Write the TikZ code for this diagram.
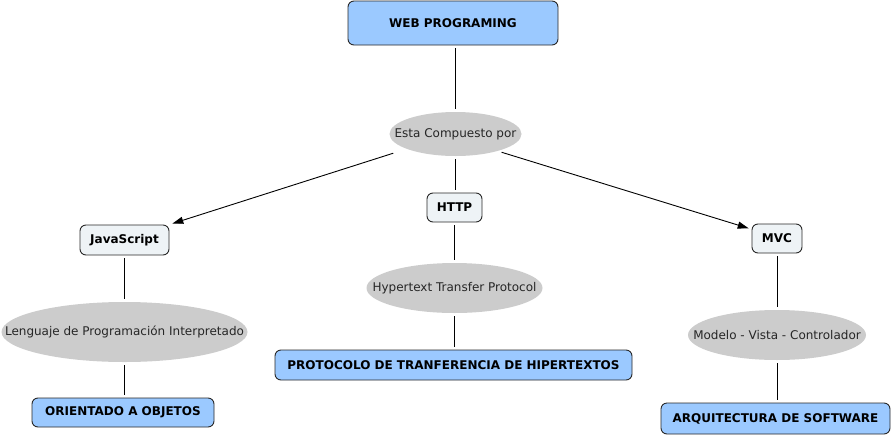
\documentclass[tikz,border=0pt]{standalone}
\usepackage{fontspec}
\setmainfont{DejaVu Sans}
\usetikzlibrary{arrows.meta,shapes.geometric}
\definecolor{boxblue}{RGB}{155,201,255}
\definecolor{boxlight}{RGB}{238,243,246}
\definecolor{ovalgray}{RGB}{204,204,204}
\definecolor{edgedark}{RGB}{40,40,40}
\newcommand{\ovtext}[1]{\makebox[0pt]{#1}}
\tikzset{
  mainbox/.style={draw=edgedark, line width=0.9pt, fill=boxblue, rounded corners=6pt,
    inner sep=0pt, font=\fontsize{12}{14}\selectfont\bfseries},
  subbox/.style={draw=edgedark, line width=0.9pt, fill=boxlight, rounded corners=6pt,
    inner sep=0pt, font=\fontsize{12}{14}\selectfont\bfseries},
  oval/.style={ellipse, fill=ovalgray, inner sep=0pt, text=black!85,
    font=\fontsize{12}{14}\selectfont},
  link/.style={draw=black, line width=0.9pt, shorten <=3pt, shorten >=3pt},
  arrowlink/.style={link, -{Triangle[length=11pt,width=7pt]}}
}
\begin{document}
\begin{tikzpicture}[x=1pt,y=-1pt]
\useasboundingbox (0,0) rectangle (892,437);
% boxes
\node[mainbox, minimum width=210pt, minimum height=44pt] (web) at (453,23) {WEB PROGRAMING};
\node[subbox, minimum width=55pt, minimum height=29pt] (http) at (454.5,207.5) {HTTP};
\node[subbox, minimum width=89pt, minimum height=30pt] (js) at (124.5,240) {JavaScript};
\node[subbox, minimum width=50pt, minimum height=29pt] (mvc) at (777,238.5) {MVC};
\node[mainbox, minimum width=182pt, minimum height=29pt] (oo) at (123,412.5) {ORIENTADO A OBJETOS};
\node[mainbox, minimum width=357pt, minimum height=30pt] (prot) at (453.5,365) {PROTOCOLO DE TRANFERENCIA DE HIPERTEXTOS};
\node[mainbox, minimum width=229pt, minimum height=31pt] (arq) at (775.5,418.5) {ARQUITECTURA DE SOFTWARE};
% ovals
\node[oval, minimum width=132pt, minimum height=44pt] (comp) at (455.5,134) {\ovtext{Esta Compuesto por}};
\node[oval, minimum width=246pt, minimum height=60pt] (leng) at (124.5,332) {\ovtext{Lenguaje de Programación Interpretado}};
\node[oval, minimum width=176pt, minimum height=50pt] (hyp) at (454.5,288) {\ovtext{Hypertext Transfer Protocol}};
\node[oval, minimum width=178pt, minimum height=50pt] (mod) at (777,335) {\ovtext{Modelo - Vista - Controlador}};
% connectors
\draw[link] (web.south -| comp.north) -- (comp.north);
\draw[link] (comp.south) -- (comp.south |- http.north);
\draw[arrowlink, shorten <=14pt] (comp.197) -- (js.north east);
\draw[arrowlink, shorten <=4pt] (comp.338) -- (mvc.160);
\draw[link] (js.south) -- (leng.north);
\draw[link] (leng.south) -- (leng.south |- oo.north);
\draw[link] (http.south) -- (hyp.north);
\draw[link] (hyp.south) -- (hyp.south |- prot.north);
\draw[link] (mvc.south) -- (mod.north);
\draw[link] (mod.south) -- (mod.south |- arq.north);
\end{tikzpicture}
\end{document}
